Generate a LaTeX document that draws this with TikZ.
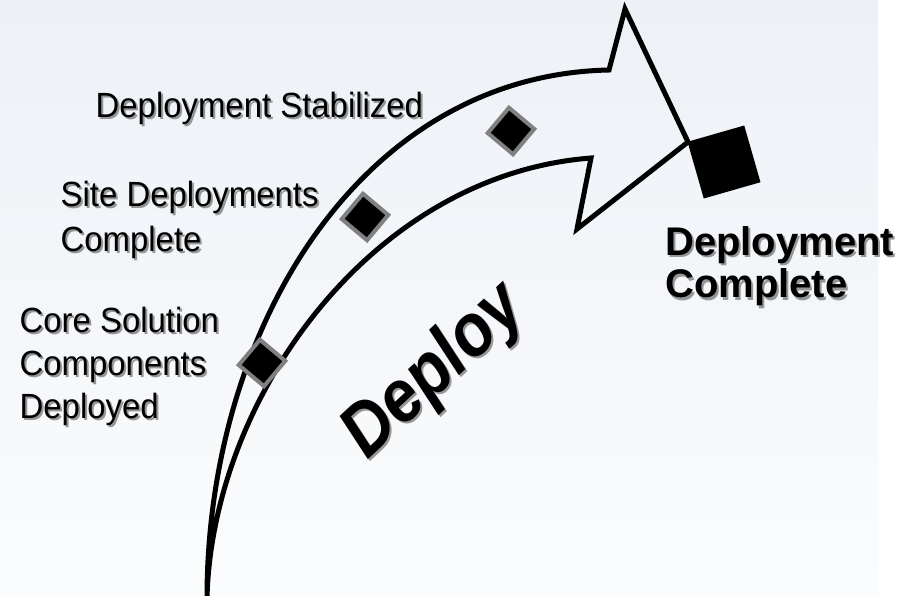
\documentclass[tikz,border=0pt]{standalone}
\usepackage{fontspec}
\setmainfont{Liberation Sans}
\newfontfamily\labelfont[FakeStretch=0.94]{Liberation Sans}
\newfontfamily\deployfont[FakeStretch=0.89]{Liberation Sans}
\usetikzlibrary{shapes,arrows,positioning,calc}
\definecolor{bgtop}{RGB}{237,241,246}
\definecolor{bgbottom}{RGB}{251,252,253}
\definecolor{shadowgray}{RGB}{150,150,150}
%Text with a grey drop shadow: options, name, position, text
\newcommand{\shadowlabel}[4]{%
    \node[xshift=2pt,yshift=-2pt,#1,text=shadowgray] at #3 {#4};
    \node[#1] (#2) at #3 {#4};}

\begin{document}
\begin{tikzpicture}[x=1pt,y=-1pt,
    milestone/.style={draw=gray,fill=black,line width=4pt,minimum size=33pt,inner sep=0pt,rotate=-40},
    label/.style={anchor=base west,inner sep=0pt,align=left,font=\labelfont\fontsize{35}{44}\selectfont}]
    %Canvas%
    %===========================================================
    \useasboundingbox (0,0) rectangle (916,596);
    \fill[white] (0,0) rectangle (916,596);
    \fill[top color=bgtop,bottom color=bgbottom] (0,0) rectangle (878,596); %Slide background
    %Locations of the arrow outline%
    %===========================================================
    \coordinate (start) at (207,598); %Foot of the arrow
    \coordinate (outer_end) at (609,70); %End of outer curve
    \coordinate (tip) at (625,9); %Upper barb
    \coordinate (head) at (688,142); %Arrow point
    \coordinate (barb) at (577,229); %Lower barb
    \coordinate (inner_end) at (591,158); %End of inner curve
    %=============================================================================================================
    %Curved arrow%
    %=============================================================================================================
    \draw[line width=5pt,line join=miter] (start) .. controls (207,330) and (360,75) .. (outer_end)
        -- (tip) -- (head) -- (barb) -- (inner_end) .. controls (370,175) and (212,400) .. (start);
    %Milestones%
    \node[milestone] (core) at (262,363) {};
    \node[milestone] (site) at (365,217) {};
    \node[milestone] (stable) at (511,131) {};
    \node[fill=black,minimum size=59pt,inner sep=0pt,rotate=16] (done) at (724,162) {}; %Final milestone
    %Labels (base anchor sits on the last line)%
    \shadowlabel{label}{stable_lbl}{(95.5,118)}{Deployment Stabilized}
    \shadowlabel{label,font=\labelfont\fontsize{35}{45}\selectfont}{site_lbl}{(60.5,252)}{Site Deployments\\Complete}
    \shadowlabel{label,font=\labelfont\fontsize{35}{43}\selectfont}{core_lbl}{(19.5,418)}{Core Solution\\Components\\Deployed}
    \shadowlabel{label,font=\fontsize{40}{43}\selectfont\bfseries}{done_lbl}{(665,298)}{Deployment\\Complete}
    \shadowlabel{inner sep=0pt,rotate=43,font=\deployfont\fontsize{74}{74}\selectfont\bfseries\itshape}{deploy_lbl}{(435,372)}{Deploy}
\end{tikzpicture}
\end{document}
